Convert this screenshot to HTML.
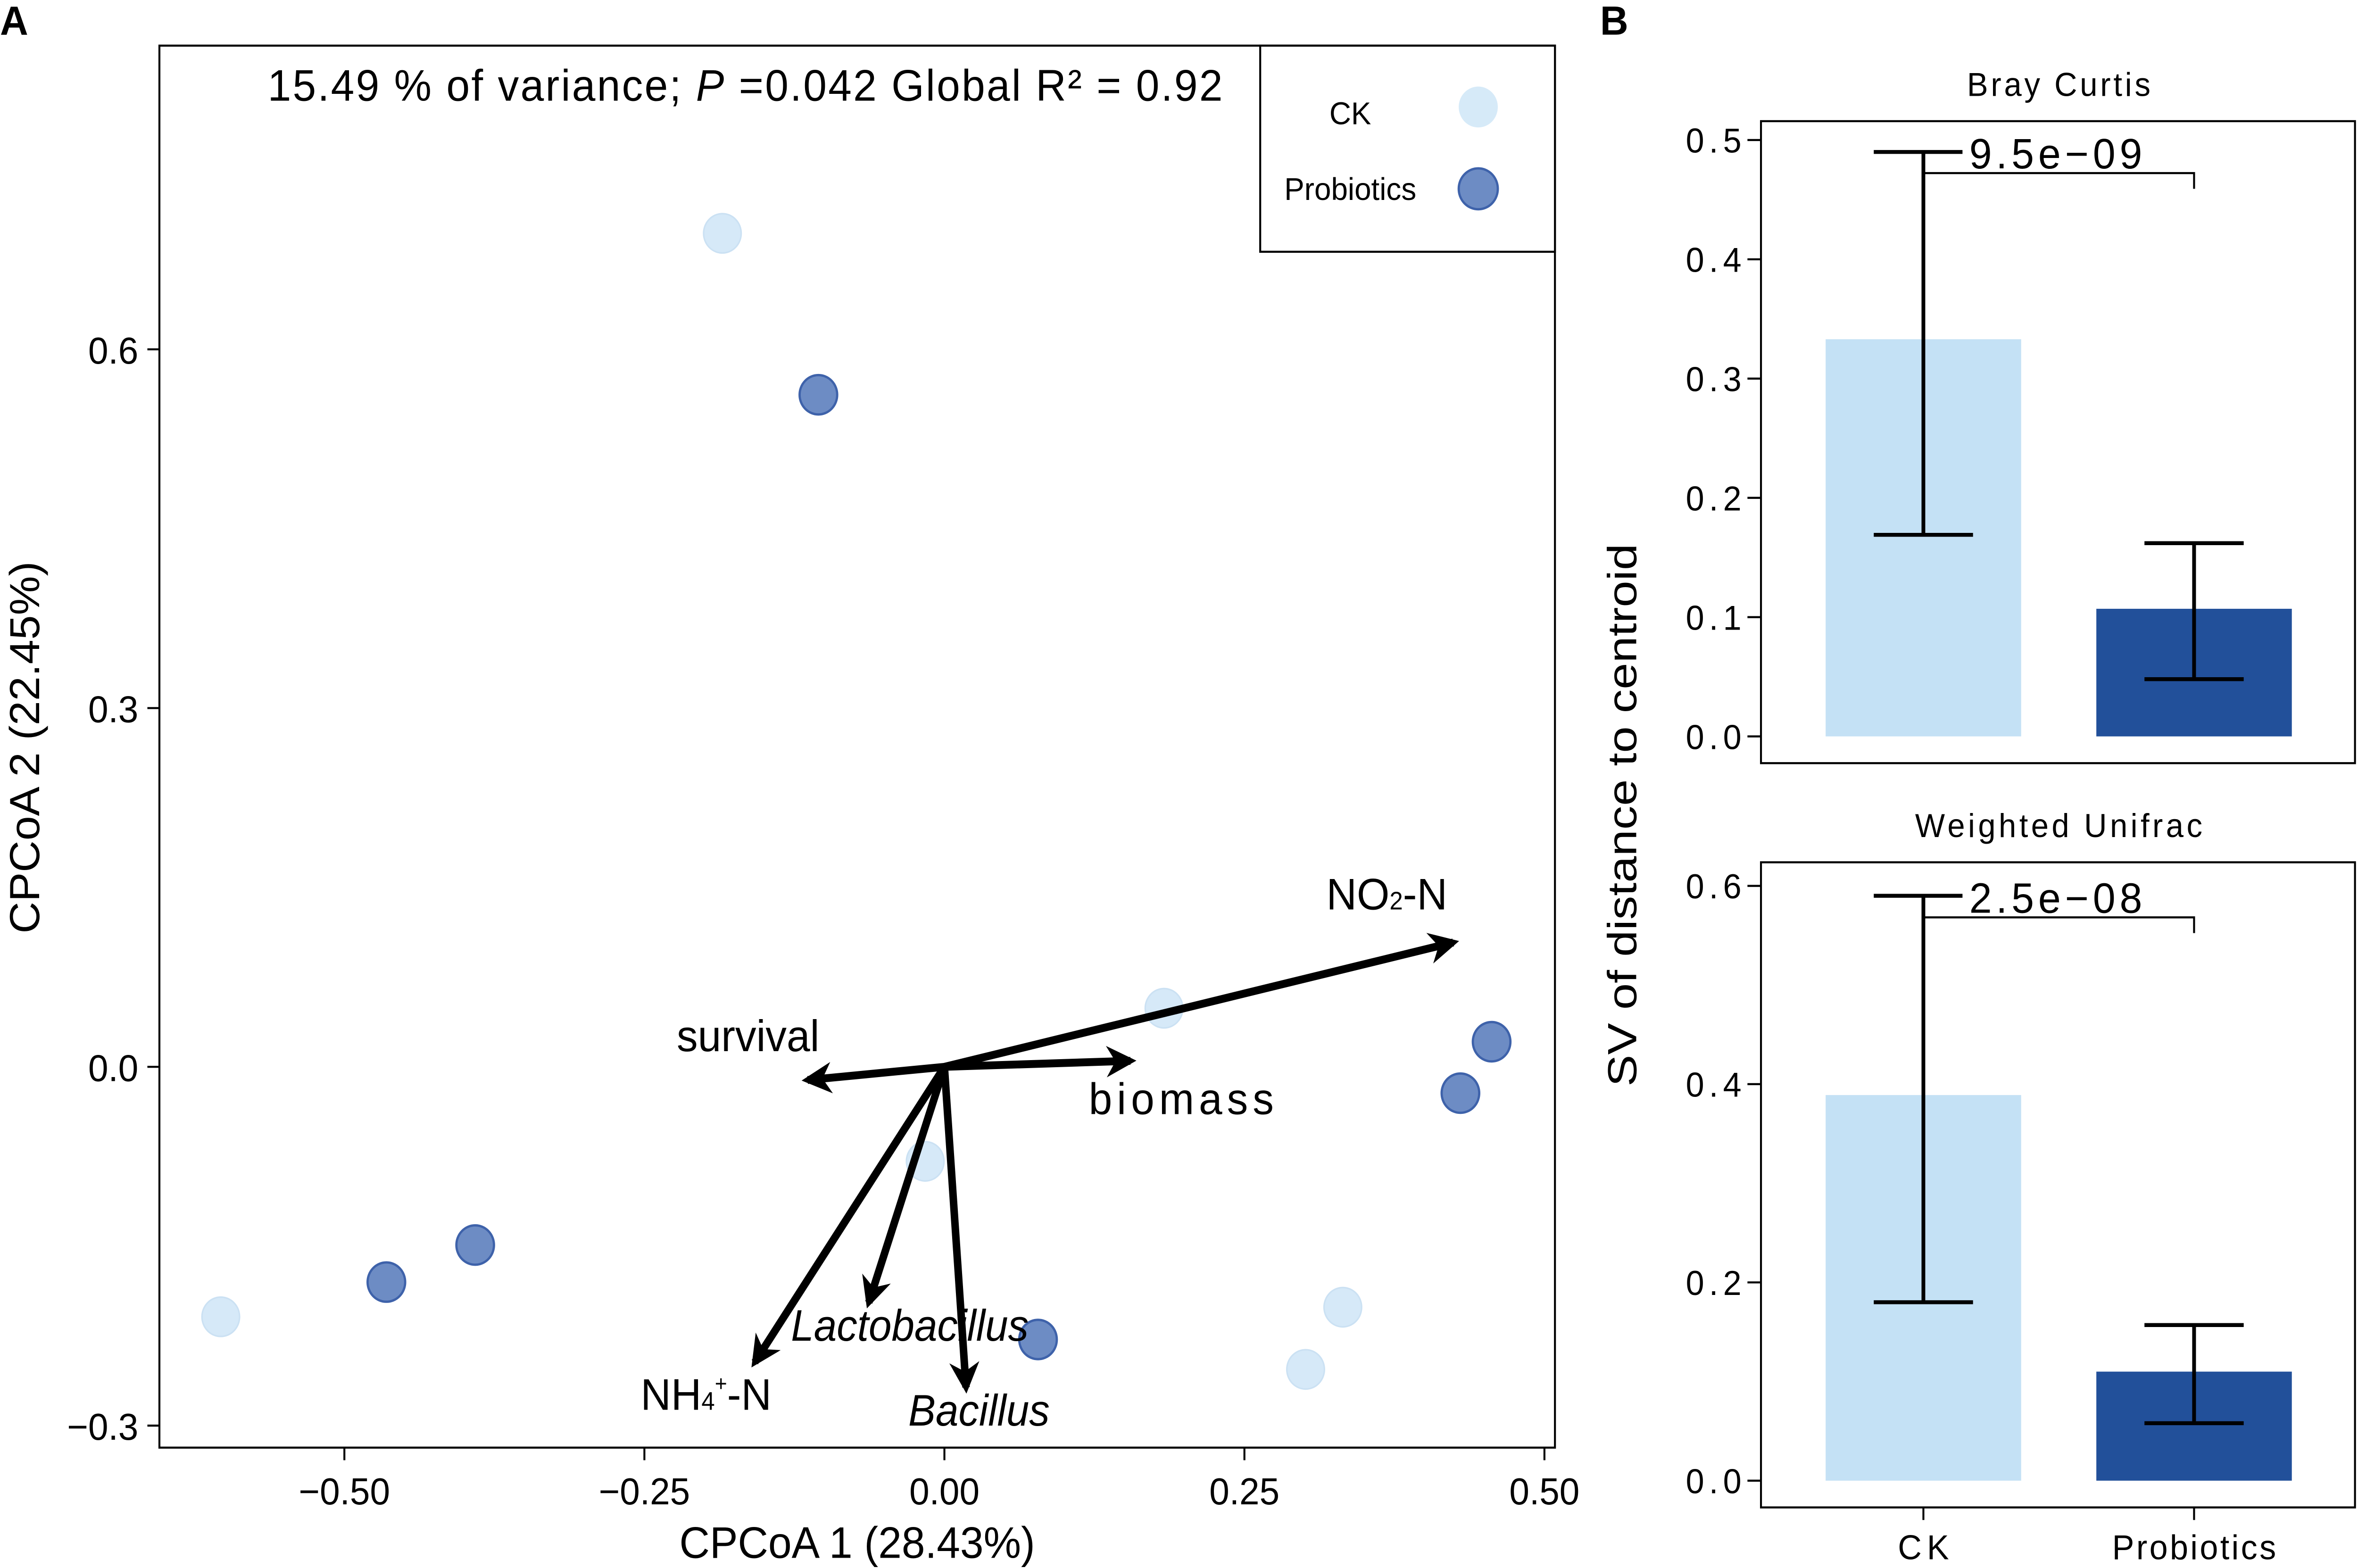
<!DOCTYPE html>
<html><head><meta charset="utf-8"><style>html,body{margin:0;padding:0;background:#fff;overflow:hidden;width:100%;height:100%}svg{display:block;width:100vw;height:100vh}text{font-family:"Liberation Sans",sans-serif;fill:#000}</style></head>
<body>
<svg id="fig" viewBox="0 0 1568 996.5" preserveAspectRatio="none" xmlns="http://www.w3.org/2000/svg">
<defs><clipPath id="clipA"><rect x="0" y="0" width="1050" height="996.5"/></clipPath>
<marker id="ah" viewBox="0 0 10 10" refX="8" refY="5" markerWidth="4" markerHeight="4" orient="auto"><path d="M0,0 L10,5 L0,10 L3,5 z" fill="#000"/></marker></defs>
<text x="0" y="22" font-size="26" font-weight="bold">A</text>
<text x="1064" y="22" font-size="26" font-weight="bold">B</text>
<g id="pa" clip-path="url(#clipA)"></g>
<g id="pb"></g>
</svg>
<script>
const ckX=[-0.185,0.183,-0.016,-0.603,0.332,0.301];
const ckY=[0.697,0.049,-0.079,-0.209,-0.201,-0.253];
const prX=[-0.105,0.456,0.430,-0.391,-0.465,0.078];
const prY=[0.562,0.021,-0.022,-0.149,-0.180,-0.228];
const arrowNames=["NO2-N","survival","biomass","NH4-N","Lactobacillus","Bacillus"];
const arrowX=[0.424,-0.114,0.155,-0.158,-0.063,0.018];
const arrowY=[0.104,-0.011,0.005,-0.247,-0.197,-0.268];
const xTicksA=[-0.5,-0.25,0,0.25,0.5];
const xTickLabelsA=["\u22120.50","\u22120.25","0.00","0.25","0.50"];
const yTicksA=[0.6,0.3,0,-0.3];
const yTickLabelsA=["0.6","0.3","0.0","\u22120.3"];
const groups=["CK","Probiotics"];
const brayMean=[0.333,0.107];
const brayLo=[0.169,0.048];
const brayHi=[0.49,0.162];
const unifMean=[0.389,0.110];
const unifLo=[0.18,0.058];
const unifHi=[0.59,0.157];
const brayTicks=[0,0.1,0.2,0.3,0.4,0.5];
const unifTicks=[0,0.2,0.4,0.6];
const NS="http://www.w3.org/2000/svg";
function mk(p,t,a,txt){const e=document.createElementNS(NS,t);for(const k in a)e.setAttribute(k,a[k]);if(txt!==undefined)e.textContent=txt;p.appendChild(e);return e;}
const pa=document.getElementById('pa');
const ax=v=>628+v*798, ay=v=>678-v*760;
let e;
e=mk(pa,'rect',{x:106,y:29,width:928,height:891,fill:'none',stroke:'#000','stroke-width':1.3});

xTicksA.forEach((v,i)=>{
 e=mk(pa,'line',{x1:ax(v),x2:ax(v),y1:920,y2:928,stroke:'#000','stroke-width':1.3});
 
 e=mk(pa,'text',{x:ax(v),y:956,'font-size':24,'text-anchor':'middle'},xTickLabelsA[i]);
 
});
yTicksA.forEach((v,i)=>{
 e=mk(pa,'line',{x1:98,x2:106,y1:ay(v),y2:ay(v),stroke:'#000','stroke-width':1.3});
 
 e=mk(pa,'text',{x:92,y:ay(v)+9,'font-size':24,'text-anchor':'end'},yTickLabelsA[i]);
 
});
e=mk(pa,'text',{x:570,y:990,'font-size':28,'text-anchor':'middle'},'CPCoA 1 (28.43%)');

e=mk(pa,'text',{x:0,y:0,'font-size':28,'text-anchor':'middle',transform:'translate(26,475) rotate(-90)'},'CPCoA 2 (22.45%)');

e=mk(pa,'text',{x:178,y:64,'font-size':28,textLength:635});
e.innerHTML='15.49 % of variance; <tspan font-style="italic">P</tspan> =0.042 Global R² = 0.92';

ckX.forEach((v,i)=>{e=mk(pa,'circle',{cx:ax(v),cy:ay(ckY[i]),r:12.5,fill:'#cfe6f7',stroke:'#c2dcf2','stroke-width':1,opacity:0.85});
 });
prX.forEach((v,i)=>{e=mk(pa,'circle',{cx:ax(v),cy:ay(prY[i]),r:12.5,fill:'#6d8cc4',stroke:'#3e62aa','stroke-width':1.5});
 });
arrowX.forEach((v,i)=>{e=mk(pa,'line',{x1:ax(0),y1:ay(0),x2:ax(v),y2:ay(arrowY[i]),stroke:'#000','stroke-width':5,'marker-end':'url(#ah)'});
 });
e=mk(pa,'text',{x:882,y:578,'font-size':28});e.innerHTML='NO<tspan font-size="16">2</tspan>-N';

e=mk(pa,'text',{x:450,y:668,'font-size':28},'survival');
e=mk(pa,'text',{x:724,y:708,'font-size':28,textLength:123},'biomass');
e=mk(pa,'text',{x:426,y:896,'font-size':28});e.innerHTML='NH<tspan font-size="16">4</tspan><tspan font-size="14" dy="-12">+</tspan><tspan dy="12">-N</tspan>';

e=mk(pa,'text',{x:526,y:852,'font-size':28,'font-style':'italic',textLength:158,lengthAdjust:'spacingAndGlyphs'},'Lactobacillus');
e=mk(pa,'text',{x:604,y:906,'font-size':28,'font-style':'italic',textLength:94,lengthAdjust:'spacingAndGlyphs'},'Bacillus');
e=mk(pa,'rect',{x:838,y:29,width:196,height:131,fill:'#fff',stroke:'#000','stroke-width':1.3});
e=mk(pa,'text',{x:884,y:79,'font-size':20},'CK');
e=mk(pa,'circle',{cx:983,cy:68,r:13,fill:'#cfe6f7',opacity:0.85});
e=mk(pa,'text',{x:854,y:127,'font-size':20},'Probiotics');
e=mk(pa,'circle',{cx:983,cy:120,r:13,fill:'#6d8cc4',stroke:'#3e62aa','stroke-width':1.5});

const pb=document.getElementById('pb');
const cx=[1279,1459];
const BL=1171;
function panel(top,bot,y0,ppu,ticks,mean,lo,hi,title,tlen,pv,bry,name){
 const y=v=>y0-v*ppu;
 e=mk(pb,'text',{x:1369,y:top-16,'font-size':21,'text-anchor':'middle',textLength:tlen},title);
 e=mk(pb,'rect',{x:BL,y:top,width:1566-BL,height:bot-top,fill:'none',stroke:'#000','stroke-width':1.3});
 ticks.forEach(v=>{
  e=mk(pb,'line',{x1:BL-9,x2:BL,y1:y(v),y2:y(v),stroke:'#000','stroke-width':1.3});
  e=mk(pb,'text',{x:1158,y:y(v)+8,'font-size':22,'text-anchor':'end',textLength:37},v.toFixed(1));
 });
 const cols=['#c4e1f5','#22509a'];
 mean.forEach((m,i)=>{
  e=mk(pb,'rect',{x:cx[i]-65,y:y(m),width:130,height:y(0)-y(m),fill:cols[i]});
  e=mk(pb,'path',{d:`M${cx[i]-33},${y(hi[i])}H${cx[i]+33}M${cx[i]},${y(hi[i])}V${y(lo[i])}M${cx[i]-33},${y(lo[i])}H${cx[i]+33}`,stroke:'#000','stroke-width':2.5,fill:'none'});
  
 });
 e=mk(pb,'path',{d:`M${cx[0]},${bry+8}V${bry}H${cx[1]}V${bry+10}`,stroke:'#000','stroke-width':1.3,fill:'none'});
 e=mk(pb,'rect',{x:1305,y:bry-22,width:125,height:20,fill:'#fff'});
 e=mk(pb,'text',{x:1367,y:bry-3,'font-size':27,'text-anchor':'middle',textLength:115},pv);
}
panel(77,485,468,758,brayTicks,brayMean,brayLo,brayHi,'Bray Curtis',122,'9.5e\u221209',110,'bray-curtis');
panel(548,958,941,630,unifTicks,unifMean,unifLo,unifHi,'Weighted Unifrac',191,'2.5e\u221208',583,'weighted-unifrac');
const xlen=[34,109];
groups.forEach((g,i)=>{
 e=mk(pb,'line',{x1:cx[i],x2:cx[i],y1:958,y2:966,stroke:'#000','stroke-width':1.3});
 e=mk(pb,'text',{x:cx[i],y:991,'font-size':22,'text-anchor':'middle',textLength:xlen[i]},g);
});
e=mk(pb,'text',{x:0,y:0,'font-size':27,'text-anchor':'middle',textLength:345,lengthAdjust:'spacingAndGlyphs',transform:'translate(1088,518) rotate(-90)'},'SV of distance to centroid');

</script>
</body></html>
